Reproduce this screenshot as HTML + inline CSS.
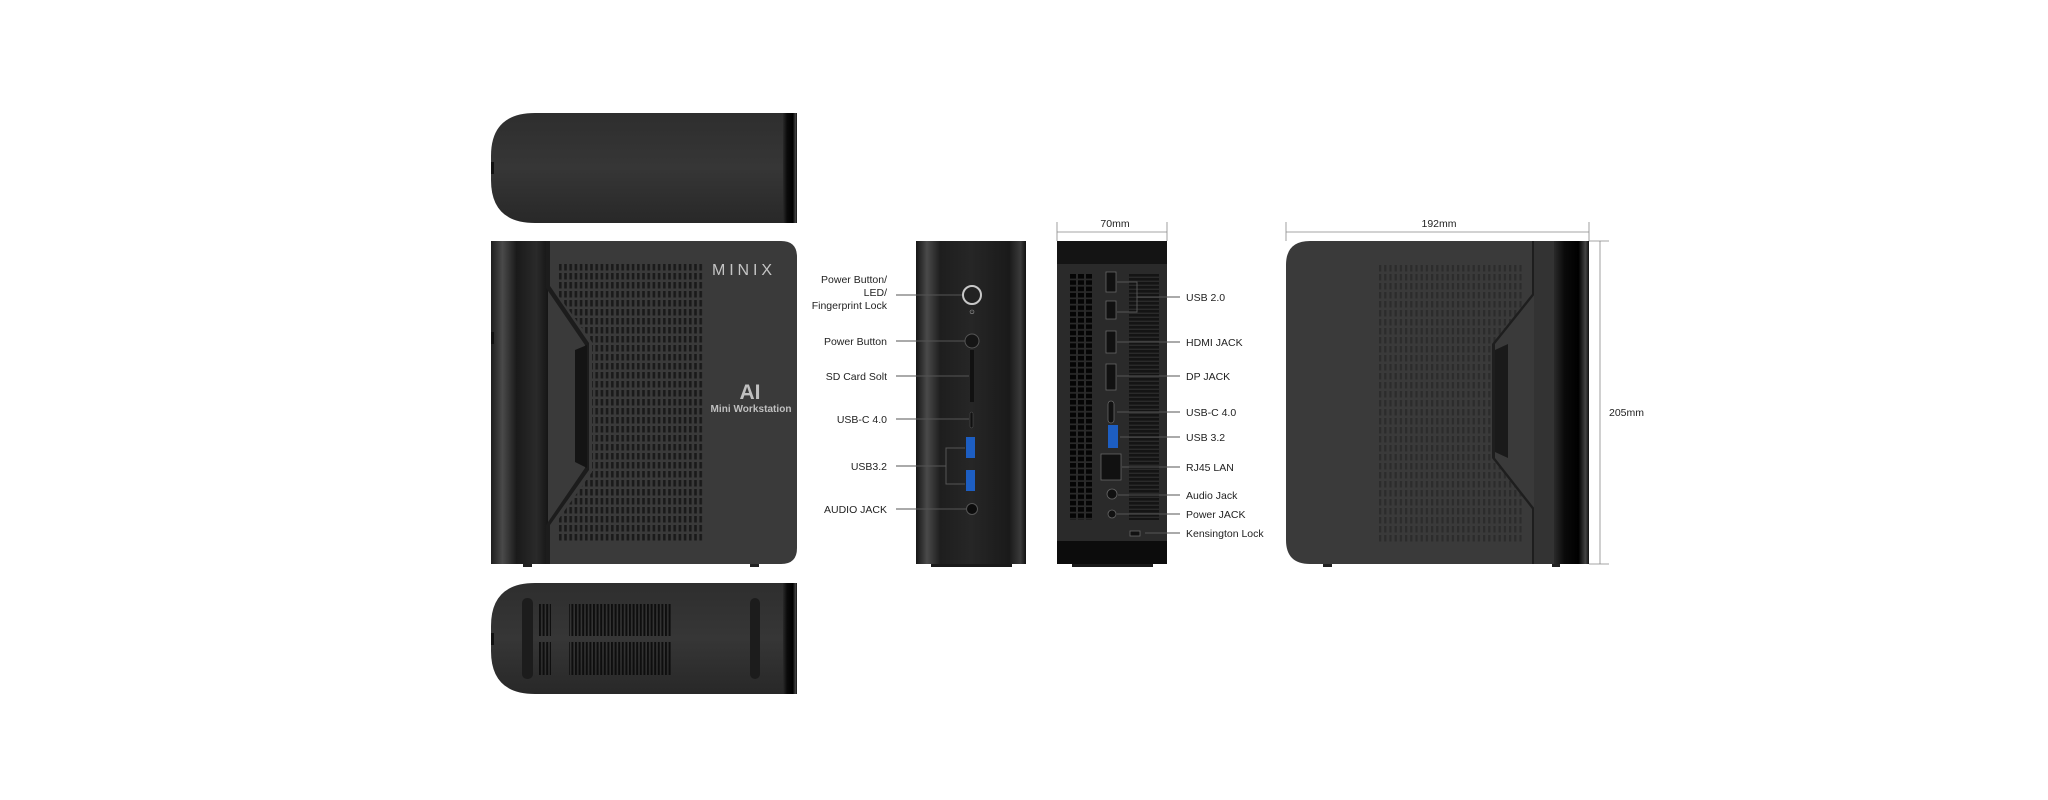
<!DOCTYPE html>
<html><head><meta charset="utf-8"><style>
html,body{margin:0;padding:0;background:#fff;}
svg{display:block}
text{font-family:"Liberation Sans",sans-serif;font-size:10.5px;fill:#222}
</style></head><body>
<svg width="2048" height="800" viewBox="0 0 2048 800" xmlns="http://www.w3.org/2000/svg">
<defs>
<linearGradient id="cap" x1="0" x2="1" y1="0" y2="0">
<stop offset="0" stop-color="#1e1e1e"/><stop offset="0.2" stop-color="#4a4a4a"/><stop offset="0.45" stop-color="#1a1a1a"/><stop offset="0.8" stop-color="#2a2a2a"/><stop offset="1" stop-color="#151515"/></linearGradient>
<linearGradient id="capR" x1="0" x2="1" y1="0" y2="0">
<stop offset="0" stop-color="#2a2a2a"/><stop offset="0.3" stop-color="#0a0a0a"/><stop offset="0.7" stop-color="#000"/><stop offset="0.9" stop-color="#444"/><stop offset="1" stop-color="#111"/></linearGradient>
<linearGradient id="front" x1="0" x2="1" y1="0" y2="0">
<stop offset="0" stop-color="#151515"/><stop offset="0.1" stop-color="#4a4a4a"/><stop offset="0.22" stop-color="#1e1e1e"/><stop offset="0.5" stop-color="#262626"/><stop offset="0.85" stop-color="#1a1a1a"/><stop offset="0.95" stop-color="#3a3a3a"/><stop offset="1" stop-color="#111"/></linearGradient>
<linearGradient id="topv" x1="0" x2="0" y1="0" y2="1">
<stop offset="0" stop-color="#2e2e2e"/><stop offset="0.5" stop-color="#363636"/><stop offset="1" stop-color="#282828"/></linearGradient>
<pattern id="vent" x="558" y="263" width="5.2" height="9" patternUnits="userSpaceOnUse">
<rect x="1" y="1" width="2.6" height="6.5" fill="#1a1a1a"/></pattern>
<pattern id="ventR" x="1378" y="264" width="5.2" height="9" patternUnits="userSpaceOnUse">
<rect x="1" y="1" width="2.2" height="6.5" fill="#2c2c2c"/></pattern>
<pattern id="sq" x="1070" y="274" width="8" height="6.3" patternUnits="userSpaceOnUse">
<rect x="0" y="0" width="6" height="4.6" fill="#050505"/></pattern>
<pattern id="slat" x="1129" y="274" width="30" height="4" patternUnits="userSpaceOnUse">
<rect x="0" y="0" width="30" height="2.6" fill="#141414"/></pattern>
<pattern id="bslot" x="539" y="0" width="3.6" height="40" patternUnits="userSpaceOnUse">
<rect x="0" y="0" width="2" height="40" fill="#0e0e0e"/></pattern>
</defs>

<!-- TOP VIEW -->
<path d="M535 113 H797 V223 H535 Q491 223 491 180 V156 Q491 113 535 113Z" fill="url(#topv)"/>
<rect x="783" y="113" width="14" height="110" fill="url(#capR)"/>
<rect x="491" y="162" width="3" height="12" fill="#111"/>

<!-- SIDE VIEW -->
<rect x="491" y="241" width="57" height="323" fill="url(#cap)"/>
<path d="M548 241 H781 Q797 241 797 257 V548 Q797 564 781 564 H548 Z" fill="#3a3a3a"/>
<path d="M558 263 H704 V541 H558 V520 L592 472 V342 L558 295Z" fill="url(#vent)"/>
<path d="M546 241 V288 L585 345 V468 L546 525 V564 H550 V525 L589 470 V343 L550 286 V241Z" fill="#1c1c1c"/>
<path d="M575 350 L587 345 V468 L575 462 Z" fill="#141414"/>
<text x="742" y="275" text-anchor="middle" textLength="60" style="font-size:16px;fill:#c4c4c4">MINIX</text>
<text x="750" y="399" text-anchor="middle" style="font-size:21px;font-weight:bold;fill:#c0c0c0">AI</text>
<text x="751" y="412" text-anchor="middle" textLength="81" style="font-size:10px;font-weight:bold;fill:#c0c0c0">Mini Workstation</text>
<rect x="523" y="564" width="9" height="3" fill="#222"/><rect x="750" y="564" width="9" height="3" fill="#222"/>
<rect x="491" y="332" width="3" height="12" fill="#111"/>

<!-- BOTTOM VIEW -->
<path d="M535 583 H797 V694 H535 Q491 694 491 651 V626 Q491 583 535 583Z" fill="url(#topv)"/>
<rect x="783" y="583" width="14" height="111" fill="url(#capR)"/>
<rect x="522" y="598" width="11" height="81" rx="5" fill="#1c1c1c"/>
<rect x="750" y="598" width="10" height="81" rx="5" fill="#1c1c1c"/>
<rect x="539" y="604" width="12" height="32" fill="url(#bslot)"/>
<rect x="569" y="604" width="102" height="32" fill="url(#bslot)"/>
<rect x="539" y="642" width="12" height="33" fill="url(#bslot)"/>
<rect x="569" y="642" width="102" height="33" fill="url(#bslot)"/>
<rect x="491" y="633" width="3" height="12" fill="#111"/>

<!-- FRONT VIEW -->
<rect x="916" y="241" width="110" height="323" fill="url(#front)"/>
<rect x="931" y="564" width="81" height="3" fill="#1a1a1a"/>
<circle cx="972" cy="295" r="9" fill="#222" stroke="#c8c8c8" stroke-width="2"/>
<text x="972" y="314" text-anchor="middle" style="font-size:6px;fill:#aaa">⏻</text>
<circle cx="972" cy="341" r="7" fill="#151515" stroke="#555"/>
<rect x="970" y="350" width="4" height="52" fill="#111"/>
<rect x="970" y="412" width="3" height="16" rx="1.5" fill="#111" stroke="#555" stroke-width="0.5"/>
<rect x="966" y="437" width="9" height="21" fill="#1d5ec2"/>
<rect x="966" y="470" width="9" height="21" fill="#1d5ec2"/>
<circle cx="972" cy="509" r="5.5" fill="#0c0c0c" stroke="#555"/>
<g stroke="#555" stroke-width="1" fill="none">
<line x1="896" y1="295" x2="962" y2="295"/>
<line x1="896" y1="341" x2="965" y2="341"/>
<line x1="896" y1="376" x2="969" y2="376"/>
<line x1="896" y1="419" x2="969" y2="419"/>
<line x1="896" y1="466" x2="946" y2="466"/>
<polyline points="965,448 946,448 946,484 965,484"/>
<line x1="896" y1="509" x2="966" y2="509"/>
</g>
<g text-anchor="end">
<text x="887" y="283">Power Button/</text>
<text x="887" y="296">LED/</text>
<text x="887" y="309">Fingerprint Lock</text>
<text x="887" y="345">Power Button</text>
<text x="887" y="380">SD Card Solt</text>
<text x="887" y="423">USB-C 4.0</text>
<text x="887" y="470">USB3.2</text>
<text x="887" y="513">AUDIO JACK</text>
</g>

<!-- BACK VIEW -->
<rect x="1057" y="241" width="110" height="323" fill="#2a2a2a"/>
<rect x="1057" y="241" width="110" height="23" fill="#141414"/>
<rect x="1057" y="541" width="110" height="23" fill="#0c0c0c"/>
<rect x="1072" y="564" width="81" height="3" fill="#1a1a1a"/>
<rect x="1070" y="274" width="24" height="246" fill="url(#sq)"/>
<rect x="1129" y="274" width="30" height="246" fill="url(#slat)"/>
<g fill="#111" stroke="#666" stroke-width="0.8">
<rect x="1106" y="272" width="10" height="20"/>
<rect x="1106" y="301" width="10" height="18"/>
<rect x="1106" y="331" width="10" height="22"/>
<rect x="1106" y="364" width="10" height="26"/>
<rect x="1108" y="401" width="6" height="22" rx="3"/>
<rect x="1101" y="454" width="20" height="26"/>
<circle cx="1112" cy="494" r="5"/>
<circle cx="1112" cy="514" r="4"/>
<rect x="1130" y="531" width="10" height="5"/>
</g>
<rect x="1108" y="425" width="10" height="23" fill="#1d5ec2"/>
<g stroke="#555" stroke-width="1" fill="none">
<polyline points="1117,282 1137,282 1137,312 1117,312"/>
<line x1="1137" y1="297" x2="1180" y2="297"/>
<line x1="1117" y1="342" x2="1180" y2="342"/>
<line x1="1117" y1="376" x2="1180" y2="376"/>
<line x1="1117" y1="412" x2="1180" y2="412"/>
<line x1="1120" y1="437" x2="1180" y2="437"/>
<line x1="1122" y1="467" x2="1180" y2="467"/>
<line x1="1118" y1="495" x2="1180" y2="495"/>
<line x1="1117" y1="514" x2="1180" y2="514"/>
<line x1="1145" y1="533" x2="1180" y2="533"/>
</g>
<text x="1186" y="301">USB 2.0</text>
<text x="1186" y="346">HDMI JACK</text>
<text x="1186" y="380">DP JACK</text>
<text x="1186" y="416">USB-C 4.0</text>
<text x="1186" y="441">USB 3.2</text>
<text x="1186" y="471">RJ45 LAN</text>
<text x="1186" y="499">Audio Jack</text>
<text x="1186" y="518">Power JACK</text>
<text x="1186" y="537">Kensington Lock</text>
<g stroke="#888" stroke-width="0.8">
<line x1="1057" y1="232" x2="1167" y2="232"/>
<line x1="1057" y1="222" x2="1057" y2="241"/>
<line x1="1167" y1="222" x2="1167" y2="241"/>
</g>
<text x="1115" y="227" text-anchor="middle">70mm</text>

<!-- RIGHT VIEW -->
<path d="M1310 241 H1534 V564 H1310 Q1286 564 1286 540 V265 Q1286 241 1310 241Z" fill="#3a3a3a"/>
<rect x="1378" y="264" width="146" height="278" fill="url(#ventR)"/>
<path d="M1534 241 V294 L1494 344 V458 L1534 509 V564 H1554 V241Z" fill="#3a3a3a"/>
<path d="M1532 241 V294 L1492 344 V458 L1532 509 V564 H1535 V509 L1495 458 V344 L1535 294 V241Z" fill="#1e1e1e"/>
<path d="M1495 350 L1508 344 V458 L1495 452Z" fill="#1a1a1a"/>
<rect x="1534" y="241" width="20" height="323" fill="#333"/>
<rect x="1554" y="241" width="35" height="323" fill="url(#capR)"/>
<rect x="1323" y="564" width="9" height="3" fill="#222"/><rect x="1552" y="564" width="8" height="3" fill="#222"/>
<g stroke="#888" stroke-width="0.8">
<line x1="1286" y1="232" x2="1589" y2="232"/>
<line x1="1286" y1="222" x2="1286" y2="241"/>
<line x1="1589" y1="222" x2="1589" y2="241"/>
<line x1="1600" y1="241" x2="1600" y2="564"/>
<line x1="1589" y1="241" x2="1609" y2="241"/>
<line x1="1589" y1="564" x2="1609" y2="564"/>
</g>
<text x="1439" y="227" text-anchor="middle">192mm</text>
<text x="1609" y="416">205mm</text>
</svg>
</body></html>
